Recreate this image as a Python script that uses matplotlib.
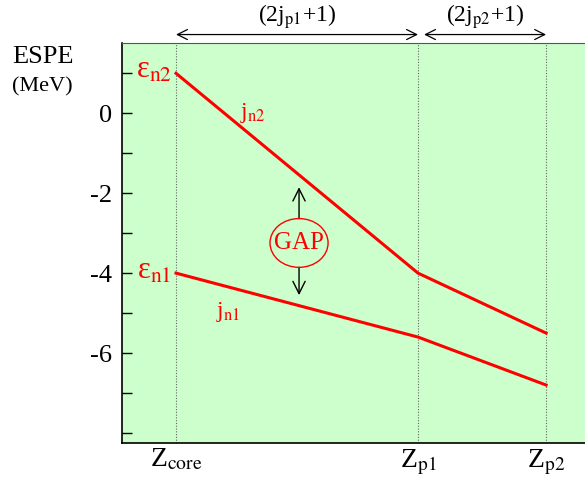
import matplotlib.pyplot as plt
from matplotlib.patches import Ellipse

plt.rcParams['font.family'] = ['Liberation Serif', 'DejaVu Serif']
plt.rcParams['mathtext.fontset'] = 'stix'

# Data: proton number positions and neutron ESPEs (MeV)
z_labels = [r'Z$_{\mathrm{core}}$', r'Z$_{\mathrm{p1}}$', r'Z$_{\mathrm{p2}}$']
z_pos = [0.0, 12.0, 18.35]
espe_n2 = [1.0, -4.0, -5.5]
espe_n1 = [-4.0, -5.6, -6.8]
y_ticks = [1, 0, -1, -2, -3, -4, -5, -6, -7, -8]
y_ticklabels = ['', '0', '', '-2', '', '-4', '', '-6', '', '']

fig = plt.figure(figsize=(5.85, 4.79), dpi=100)
ax = fig.add_axes([0.2085, 0.0752, 0.7915, 0.836])
ax.set_facecolor('#ccffcc')

ax.set_xlim(-2.68, 20.28)
ax.set_ylim(-8.25, 1.77)

# Vertical dotted guides
for z in z_pos:
    ax.axvline(z, color='#666666', linestyle=(0, (1, 1.5)), linewidth=0.8, zorder=1)

ax.plot(z_pos, espe_n2, color='red', linewidth=2.2, zorder=3)
ax.plot(z_pos, espe_n1, color='red', linewidth=2.2, zorder=3)

# Axes styling
ax.spines['right'].set_visible(False)
ax.spines['top'].set_color('#555555')
ax.spines['left'].set_linewidth(1.2)
ax.spines['bottom'].set_linewidth(1.2)
ax.set_yticks(y_ticks)
ax.set_yticklabels(y_ticklabels, fontsize=19)
ax.tick_params(axis='y', direction='in', length=7, width=1, pad=7)
ax.set_xticks(z_pos)
ax.set_xticklabels(z_labels, fontsize=20)
ax.tick_params(axis='x', length=0, pad=3)

# Y label
fig.text(12 / 585, 1 - 57 / 479, 'ESPE', fontsize=19, ha='left', va='center')
fig.text(12 / 585, 1 - 87 / 479, '(MeV)', fontsize=16, ha='left', va='center')

# Level labels
ax.text(-1.1, 1.08, r'ε$_{\mathrm{n2}}$', color='red', fontsize=22, ha='center', va='center')
ax.text(-1.1, -3.95, r'ε$_{\mathrm{n1}}$', color='red', fontsize=22, ha='center', va='center')
ax.text(3.8, 0.0, r'j$_{\mathrm{n2}}$', color='red', fontsize=17, ha='center', va='center')
ax.text(2.6, -4.98, r'j$_{\mathrm{n1}}$', color='red', fontsize=17, ha='center', va='center')

# GAP marker
gap_x, gap_y = 6.1, -3.245
ax.add_patch(Ellipse((gap_x, gap_y), 2.88, 1.22, fill=False, edgecolor='red', linewidth=1.0, zorder=4))
ax.text(gap_x, gap_y, 'GAP', color='red', fontsize=18, ha='center', va='center', zorder=5)
ax.annotate('', xy=(gap_x, -1.85), xytext=(gap_x, gap_y + 0.61),
            arrowprops=dict(arrowstyle='->', color='black', lw=1.0, mutation_scale=22, shrinkA=0, shrinkB=0))
ax.annotate('', xy=(gap_x, -4.55), xytext=(gap_x, gap_y - 0.61),
            arrowprops=dict(arrowstyle='->', color='black', lw=1.0, mutation_scale=22, shrinkA=0, shrinkB=0))

# Degeneracy arrows above the plot
arrow_y = 1.77 + 0.2
ax.annotate('', xy=(z_pos[0], arrow_y), xytext=(z_pos[1], arrow_y), xycoords='data',
            arrowprops=dict(arrowstyle='<->', color='black', lw=0.9, mutation_scale=18,
                            shrinkA=0, shrinkB=0), annotation_clip=False)
ax.annotate('', xy=(z_pos[1] + 0.3, arrow_y), xytext=(z_pos[2], arrow_y), xycoords='data',
            arrowprops=dict(arrowstyle='<->', color='black', lw=0.9, mutation_scale=18,
                            shrinkA=0, shrinkB=0), annotation_clip=False)
ax.text((z_pos[0] + z_pos[1]) / 2, arrow_y + 0.45, r'(2j$_{\mathrm{p1}}$+1)', fontsize=17,
        ha='center', va='center', clip_on=False)
ax.text((z_pos[1] + z_pos[2]) / 2 + 0.15, arrow_y + 0.45, r'(2j$_{\mathrm{p2}}$+1)', fontsize=17,
        ha='center', va='center', clip_on=False)

fig.savefig('out.png', dpi=100)
